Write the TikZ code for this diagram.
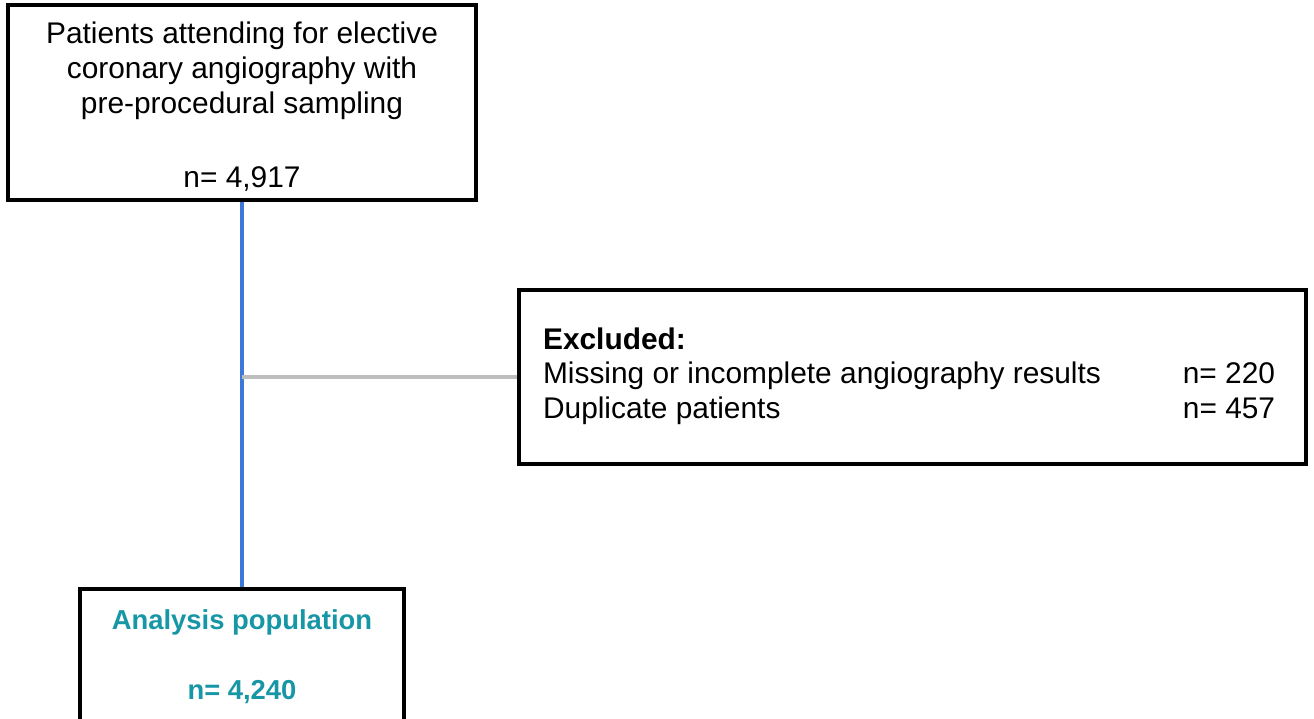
\documentclass[tikz,border=0pt]{standalone}
\usepackage{fontspec}
\setmainfont{Liberation Sans}
\usepackage{tikz}
\usepackage{xcolor}
\usetikzlibrary{positioning, calc}
\definecolor{FlowBlack}{HTML}{000000}
\definecolor{FlowBlue}{HTML}{3C78D8}
\definecolor{FlowGrey}{HTML}{BDBDBD}
\definecolor{FlowTeal}{HTML}{1797A6}
\tikzset{
    % Box styles - sharp corners
    stagebox/.style={
        rectangle,
        draw=FlowBlack,
        fill=white,
        line width=2pt,
        align=center,
        inner sep=0pt,
        font=\fontsize{17}{19.85}\selectfont
    },
    finalbox/.style={
        stagebox,
        text=FlowTeal,
        font=\fontsize{15.6}{19.85}\selectfont\bfseries
    },
    % Link styles
    mainlink/.style={
        draw=FlowBlue,
        line width=2.2pt
    },
    sidelink/.style={
        draw=FlowGrey,
        line width=2.2pt
    }
}
\begin{document}
\begin{tikzpicture}[x=0.02cm, y=-0.02cm]
                \useasboundingbox (0,0) rectangle (1314,719);

                % Boxes
                \node[stagebox,minimum width=468*0.02cm,minimum height=195*0.02cm] (enrol) at (242,102.5)
                    {\rule{0pt}{17pt}Patients attending for elective\\coronary angiography with\\pre-procedural sampling\\[22.7pt]n= 4,917};
                \node[stagebox,minimum width=787*0.02cm,minimum height=174*0.02cm] (excl) at (912.5,377)
                    {\begin{tabular}{@{}p{12.8cm}@{}p{1.98cm}@{}}
                        \textbf{Excluded:} & \\
                        Missing or incomplete angiography results & n= 220\\
                        Duplicate patients & n= 457
                    \end{tabular}};
                \node[finalbox,minimum width=324*0.02cm,minimum height=136*0.02cm] (pop) at (242,657)
                    {Analysis population\\[19.85pt]n= 4,240};

                % Links
                \coordinate (split) at (enrol.south |- excl.west);
                \draw[mainlink] (enrol.south) -- (pop.north);
                \draw[sidelink] (split) -- (excl.west);
            \end{tikzpicture}
\end{document}
